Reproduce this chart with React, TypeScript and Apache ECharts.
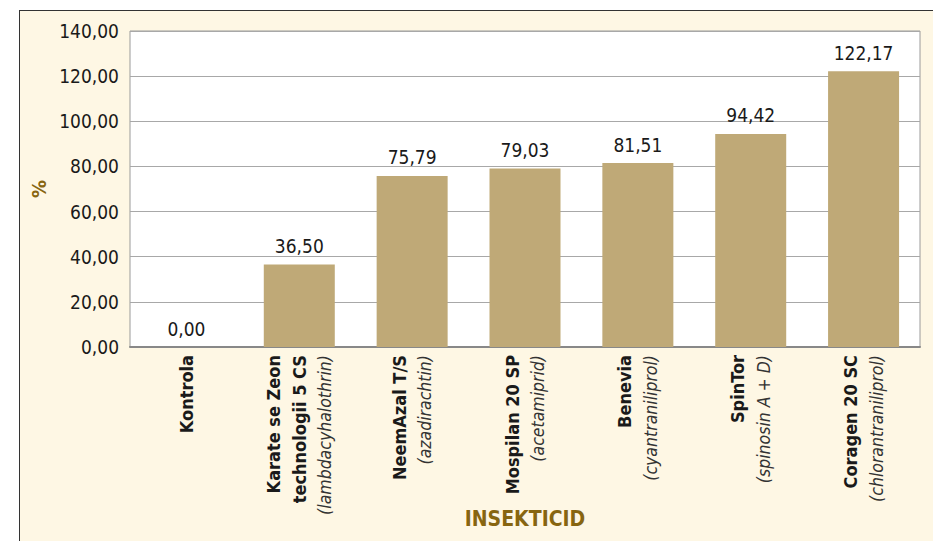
import React, { useEffect, useRef } from "react";
import * as echarts from "echarts";

const categories = [
  "Kontrola",
  "Karate se Zeon\ntechnologii 5 CS",
  "NeemAzal T/S",
  "Mospilan 20 SP",
  "Benevia",
  "SpinTor",
  "Coragen 20 SC",
];
const activeIngredients = [
  "",
  "lambdacyhalothrin",
  "azadirachtin",
  "acetamiprid",
  "cyantraniliprol",
  "spinosin A + D",
  "chlorantraniliprol",
];
const values = [0.0, 36.5, 75.79, 79.03, 81.51, 94.42, 122.17];
const yTicks = { min: 0, max: 140, interval: 20 };
const xAxisTitle = "INSEKTICID";
const yAxisTitle = "%";

const FONT = "'Liberation Sans Narrow', 'DejaVu Sans Condensed', 'Roboto', sans-serif";
const fmt = (v: number) => v.toFixed(2).replace(".", ",");

export default function App() {
  const ref = useRef<HTMLDivElement>(null);
  useEffect(() => {
    if (!ref.current) return;
    const chart = echarts.init(ref.current, null, { renderer: "svg" });
    chart.setOption({
      animation: false,
      backgroundColor: "transparent",
      textStyle: { fontFamily: FONT },
      grid: {
        left: 130,
        right: 13,
        top: 31,
        bottom: 194,
        show: true,
        containLabel: false,
        outerBoundsMode: "none",
        backgroundColor: "#ffffff",
        borderColor: "#9a9a9a",
        borderWidth: 1,
      },
      xAxis: {
        type: "category",
        data: categories,
        name: xAxisTitle,
        nameLocation: "middle",
        nameGap: 161,
        nameMoveOverlap: false,
        nameTextStyle: { color: "#876510", fontSize: 21, fontWeight: "bold", fontFamily: FONT },
        axisTick: { show: false },
        axisLine: { lineStyle: { color: "#888888", width: 2 } },
        axisLabel: {
          interval: 0,
          rotate: 90,
          margin: 8,
          formatter: (val: string, idx: number) => {
            const lines = val.split("\n").map((l) => `{b|${l}}`);
            const ing = activeIngredients[idx];
            if (ing) lines.push(`{i|(${ing})}`);
            return lines.join("\n");
          },
          rich: {
            b: { fontFamily: FONT, fontWeight: "bold", fontSize: 18, color: "#1a1a1a", lineHeight: 26 },
            i: { fontFamily: FONT, fontStyle: "italic", fontSize: 17.5, color: "#333333", lineHeight: 26 },
          },
        },
      },
      yAxis: {
        type: "value",
        min: yTicks.min,
        max: yTicks.max,
        interval: yTicks.interval,
        name: yAxisTitle,
        nameLocation: "middle",
        nameGap: 81,
        nameMoveOverlap: false,
        nameRotate: 90,
        nameTextStyle: { color: "#876510", fontSize: 20, fontWeight: "bold", fontFamily: FONT },
        axisLine: { show: false },
        axisTick: { show: false },
        axisLabel: {
          margin: 11,
          fontSize: 19,
          color: "#1a1a1a",
          fontFamily: FONT,
          formatter: (v: number) => fmt(v),
        },
        splitLine: { lineStyle: { color: "#a8a8a8", width: 1 } },
      },
      series: [
        {
          type: "bar",
          data: values,
          barWidth: 71,
          itemStyle: { color: "#bfa977" },
          label: {
            show: true,
            position: "top",
            distance: 9,
            fontSize: 19,
            color: "#1a1a1a",
            fontFamily: FONT,
            formatter: (p: any) => fmt(p.value),
          },
        },
      ],
    });
    return () => chart.dispose();
  }, []);

  return (
    <div style={{ position: "fixed", left: 0, top: 0, width: 933, height: 541, background: "#ffffff", overflow: "hidden" }}>
      <div
        style={{
          position: "absolute",
          left: 19,
          top: 10,
          width: 1000,
          height: 700,
          background: "#fef7e4",
          borderLeft: "1.5px solid #333",
          borderTop: "1.5px solid #333",
        }}
      />
      <div ref={ref} style={{ position: "absolute", left: 0, top: 0, width: 933, height: 541 }} />
    </div>
  );
}
